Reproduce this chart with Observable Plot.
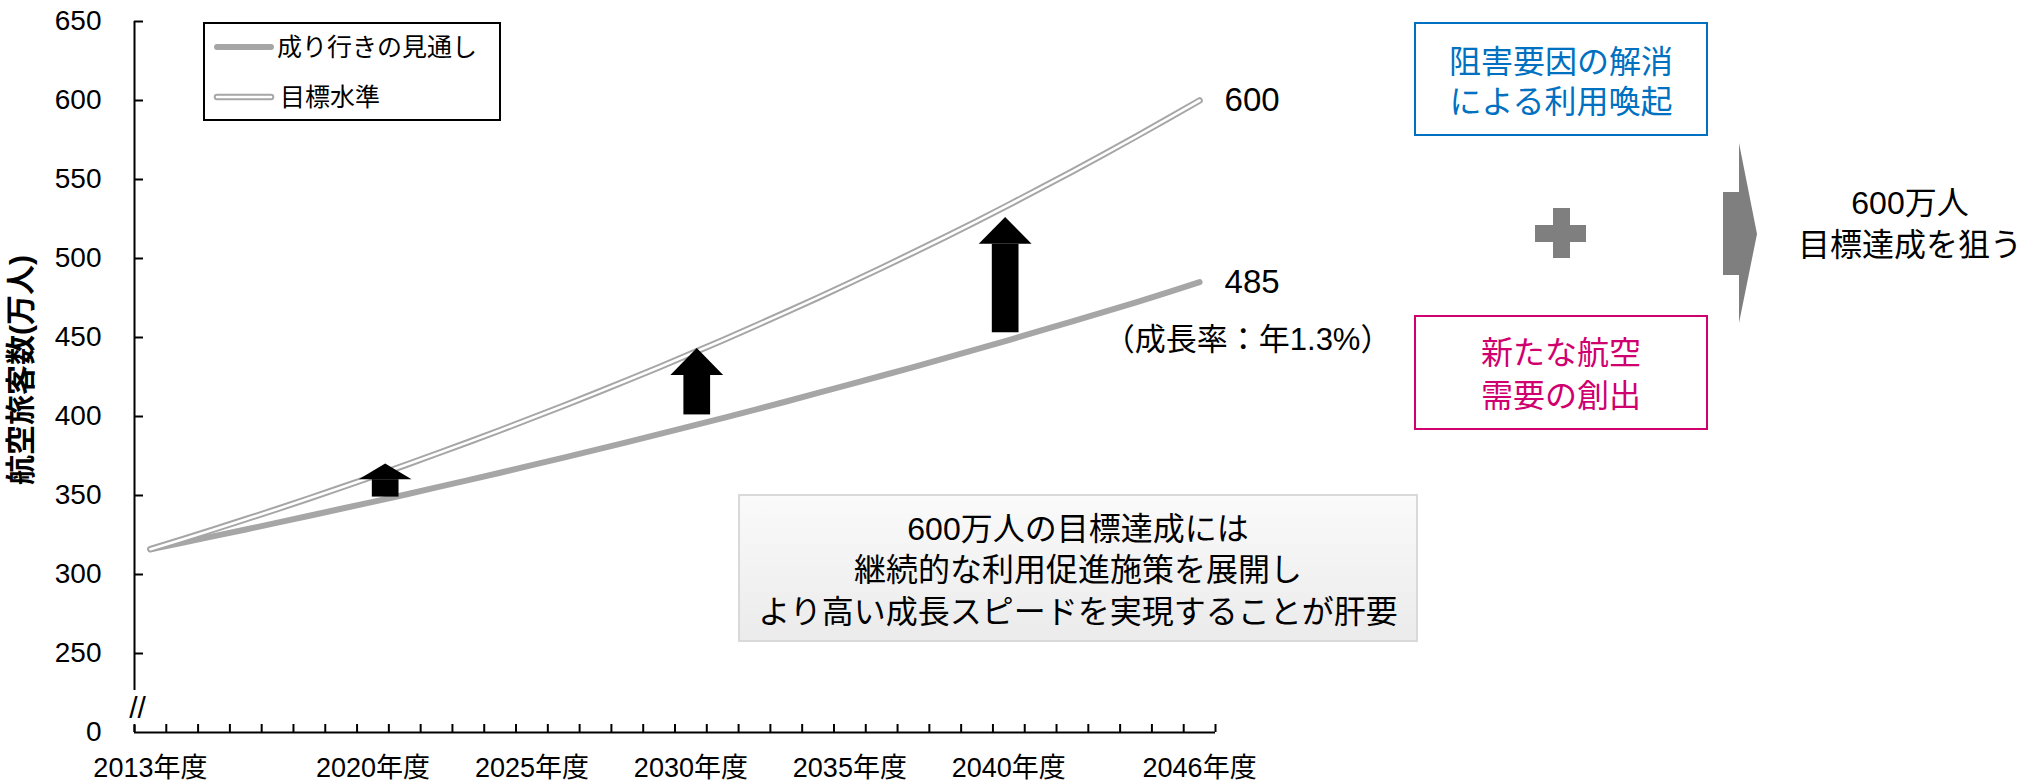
<!DOCTYPE html>
<html>
<head>
<meta charset="utf-8">
<script src="https://cdn.jsdelivr.net/npm/d3@7"></script>
<script src="https://cdn.jsdelivr.net/npm/@observablehq/plot@0.6"></script>
<style>
  html, body { margin: 0; padding: 0; background: #fff; }
  #wrap { position: relative; width: 2033px; height: 782px; overflow: hidden;
    font-family: "Liberation Sans", Arial, "Noto Sans CJK JP", sans-serif; color: #000; }
  #chart { position: absolute; left: 0; top: 0; }
  .abs { position: absolute; box-sizing: border-box; }
  .box { display: flex; flex-direction: column; align-items: center; justify-content: center; text-align: center; white-space: nowrap; }
</style>
</head>
<body>
<div id="wrap">
  <div id="chart"></div>

  <svg class="abs" id="legend" style="left:203px;top:22px" width="298" height="99">
    <rect x="1" y="1" width="296" height="97" fill="#fff" stroke="#000" stroke-width="2"></rect>
    <line x1="14" x2="68" y1="25" y2="25" stroke="#a6a6a6" stroke-width="6" stroke-linecap="round"></line>
    <text id="lg1" x="74" y="25" font-size="25" dominant-baseline="central"></text>
    <line x1="14" x2="68" y1="75" y2="75" stroke="#a6a6a6" stroke-width="6.5" stroke-linecap="round"></line>
    <line x1="14" x2="68" y1="75" y2="75" stroke="#fff" stroke-width="2.6" stroke-linecap="round"></line>
    <text id="lg2" x="77" y="75" font-size="25" dominant-baseline="central"></text>
  </svg>

  <div class="abs box" style="left:738px;top:494px;width:680px;height:148px;border:2px solid #d9d9d9;background:linear-gradient(to bottom,#fafafa,#ebebeb);font-size:32px;line-height:41.5px;padding-top:6px;">
    <div>600万人の目標達成には</div>
    <div>継続的な利用促進施策を展開し</div>
    <div>より高い成長スピードを実現することが肝要</div>
  </div>

  <div class="abs box" style="left:1414px;top:22px;width:294px;height:114px;border:2px solid #0070c0;color:#0070c0;font-size:32px;line-height:40px;padding-top:6px;">
    <div>阻害要因の解消</div>
    <div>による利用喚起</div>
  </div>

  <div class="abs box" style="left:1414px;top:315px;width:294px;height:115px;border:2px solid #d0006f;color:#d0006f;font-size:32px;line-height:43px;padding-top:5px;">
    <div>新たな航空</div>
    <div>需要の創出</div>
  </div>

  <div class="abs" style="left:1535px;top:225px;width:51px;height:17px;background:#7f7f7f;"></div>
  <div class="abs" style="left:1553px;top:208px;width:17px;height:50px;background:#7f7f7f;"></div>

  <svg class="abs" style="left:1715px;top:135px" width="50" height="200">
    <polygon points="8,57 24,57 24,8 42,99 24,188 24,140 8,140" fill="#7f7f7f"></polygon>
  </svg>

  <div class="abs box" style="left:1790px;top:182px;width:240px;font-size:32px;line-height:42px;">
    <div>600万人</div>
    <div>目標達成を狙う</div>
  </div>
</div>

<script>
// ---- data ----
const years = [2013, 2014, 2015, 2016, 2017, 2018, 2019, 2020, 2021, 2022, 2023, 2024,
  2025, 2026, 2027, 2028, 2029, 2030, 2031, 2032, 2033, 2034, 2035, 2036, 2037, 2038,
  2039, 2040, 2041, 2042, 2043, 2044, 2045, 2046];
// 成り行きの見通し (万人)
const outlook = [316, 320.1, 324.3, 328.5, 332.8, 337.2, 341.6, 346.0, 350.5, 355.1, 359.7, 364.4,
  369.2, 374.0, 378.9, 383.8, 388.8, 393.9, 399.0, 404.2, 409.5, 414.9, 420.3, 425.8, 431.3, 437.0,
  442.7, 448.4, 454.3, 460.2, 466.2, 472.3, 478.5, 485];
// 目標水準 (万人)
const target = [316, 322.2, 328.5, 335.0, 341.5, 348.2, 355.1, 362.0, 369.1, 376.4, 383.8, 391.3,
  399.0, 406.8, 414.8, 422.9, 431.2, 439.7, 448.3, 457.1, 466.1, 475.2, 484.6, 494.1, 503.8, 513.6,
  523.7, 534.0, 544.5, 555.2, 566.0, 577.2, 588.5, 600];
const seriesNames = ["成り行きの見通し", "目標水準"];
const growthNote = "（成長率：年1.3%）";

const yTickValues = [200, 250, 300, 350, 400, 450, 500, 550, 600, 650];
const yTickLabels = ["0", "250", "300", "350", "400", "450", "500", "550", "600", "650"];
const xLabelYears = [2013, 2020, 2025, 2030, 2035, 2040, 2046];
const yAxisTitle = "航空旅客数(万人)";

// up-arrows between the two paths
const arrowYears = [2020.4, 2030.2, 2039.9];
const arrowBase = [349, 401, 453];
const arrowNeck = [360, 426, 509];
const arrowTip = [370, 443, 526];

// ---- build ----
const FONT = '"Liberation Sans", Arial, "Noto Sans CJK JP", sans-serif';
const SHAFT_HALF = 0.42, HEAD_HALF = 0.83; // in years
const xBounds = d3.range(years[0] - 0.5, years[years.length - 1] + 1, 1);
const idx = years.map((d, i) => i);

const shafts = arrowYears.map((yr, i) => ({x1: yr - SHAFT_HALF, x2: yr + SHAFT_HALF, y1: arrowBase[i], y2: arrowNeck[i]}));
const heads = arrowYears.flatMap((yr, i) => [
  {k: i, x: yr - HEAD_HALF, y1: arrowNeck[i], y2: arrowNeck[i]},
  {k: i, x: yr, y1: arrowNeck[i], y2: arrowTip[i]},
  {k: i, x: yr + HEAD_HALF, y1: arrowNeck[i], y2: arrowNeck[i]}
]);
const last = years.length - 1;
const endLabels = [
  {x: years[last], y: target[last], t: String(target[last])},
  {x: years[last], y: outlook[last], t: String(outlook[last])}
];

document.getElementById("lg1").textContent = seriesNames[0];
document.getElementById("lg2").textContent = seriesNames[1];

const chart = Plot.plot({
  width: 2033,
  height: 782,
  marginLeft: 134,
  marginRight: 818,
  marginTop: 21,
  marginBottom: 50,
  style: {fontFamily: FONT, fontSize: "26px", background: "transparent", color: "#000", overflow: "visible"},
  x: {type: "linear", domain: [years[0] - 0.5, years[last] + 0.5], label: null},
  y: {type: "linear", domain: [200, 650], label: null},
  marks: [
    // broken y axis line
    Plot.ruleX([years[0] - 0.5], {y1: 226.6, y2: 650, stroke: "#000", strokeWidth: 2}),
    Plot.ruleX([years[0] - 0.5], {y1: 200, y2: 204.4, stroke: "#000", strokeWidth: 2}),
    Plot.text(["//"], {x: years[0] - 0.5, y: 215.5, dx: 3, fontSize: 30}),
    // x axis line
    Plot.ruleY([200], {stroke: "#000", strokeWidth: 2}),
    // inward ticks
    Plot.ruleY(yTickValues.slice(1), {x1: years[0] - 0.5, x2: years[0] - 0.5, insetLeft: 9, stroke: "#000", strokeWidth: 2}),
    Plot.ruleX(xBounds, {y1: 200, y2: 200, insetBottom: 8, stroke: "#000", strokeWidth: 2}),
    Plot.axisY({ticks: yTickValues, tickSize: 0, tickPadding: 33, label: null, fontSize: 28,
      tickFormat: d => yTickLabels[yTickValues.indexOf(d)]}),
    Plot.axisX({ticks: xLabelYears, tickSize: 0, tickPadding: 25, label: null, fontSize: 27,
      tickFormat: d => d + "年度"}),
    Plot.text([yAxisTitle], {frameAnchor: "left", textAnchor: "middle", dx: -113, dy: -7, rotate: -90, fontSize: 30, fontWeight: "bold"}),
    // lines
    Plot.line(idx, {x: i => years[i], y: i => outlook[i], stroke: "#a6a6a6", strokeWidth: 6, strokeLinecap: "round", strokeLinejoin: "round"}),
    Plot.line(idx, {x: i => years[i], y: i => target[i], stroke: "#a6a6a6", strokeWidth: 6.5, strokeLinecap: "round", strokeLinejoin: "round"}),
    Plot.line(idx, {x: i => years[i], y: i => target[i], stroke: "#fff", strokeWidth: 2.6, strokeLinecap: "round", strokeLinejoin: "round"}),
    // arrows
    Plot.rect(shafts, {x1: "x1", x2: "x2", y1: "y1", y2: "y2", fill: "#000"}),
    Plot.areaY(heads, {x: "x", y1: "y1", y2: "y2", z: "k", fill: "#000", curve: "linear"}),
    // end labels
    Plot.text(endLabels, {x: "x", y: "y", text: "t", dx: 25, textAnchor: "start", fontSize: 33}),
    Plot.text([growthNote], {x: years[last], y: outlook[last], dx: 48, dy: 58, fontSize: 31})
  ]
});
document.getElementById("chart").appendChild(chart);
</script>
</body>
</html>
